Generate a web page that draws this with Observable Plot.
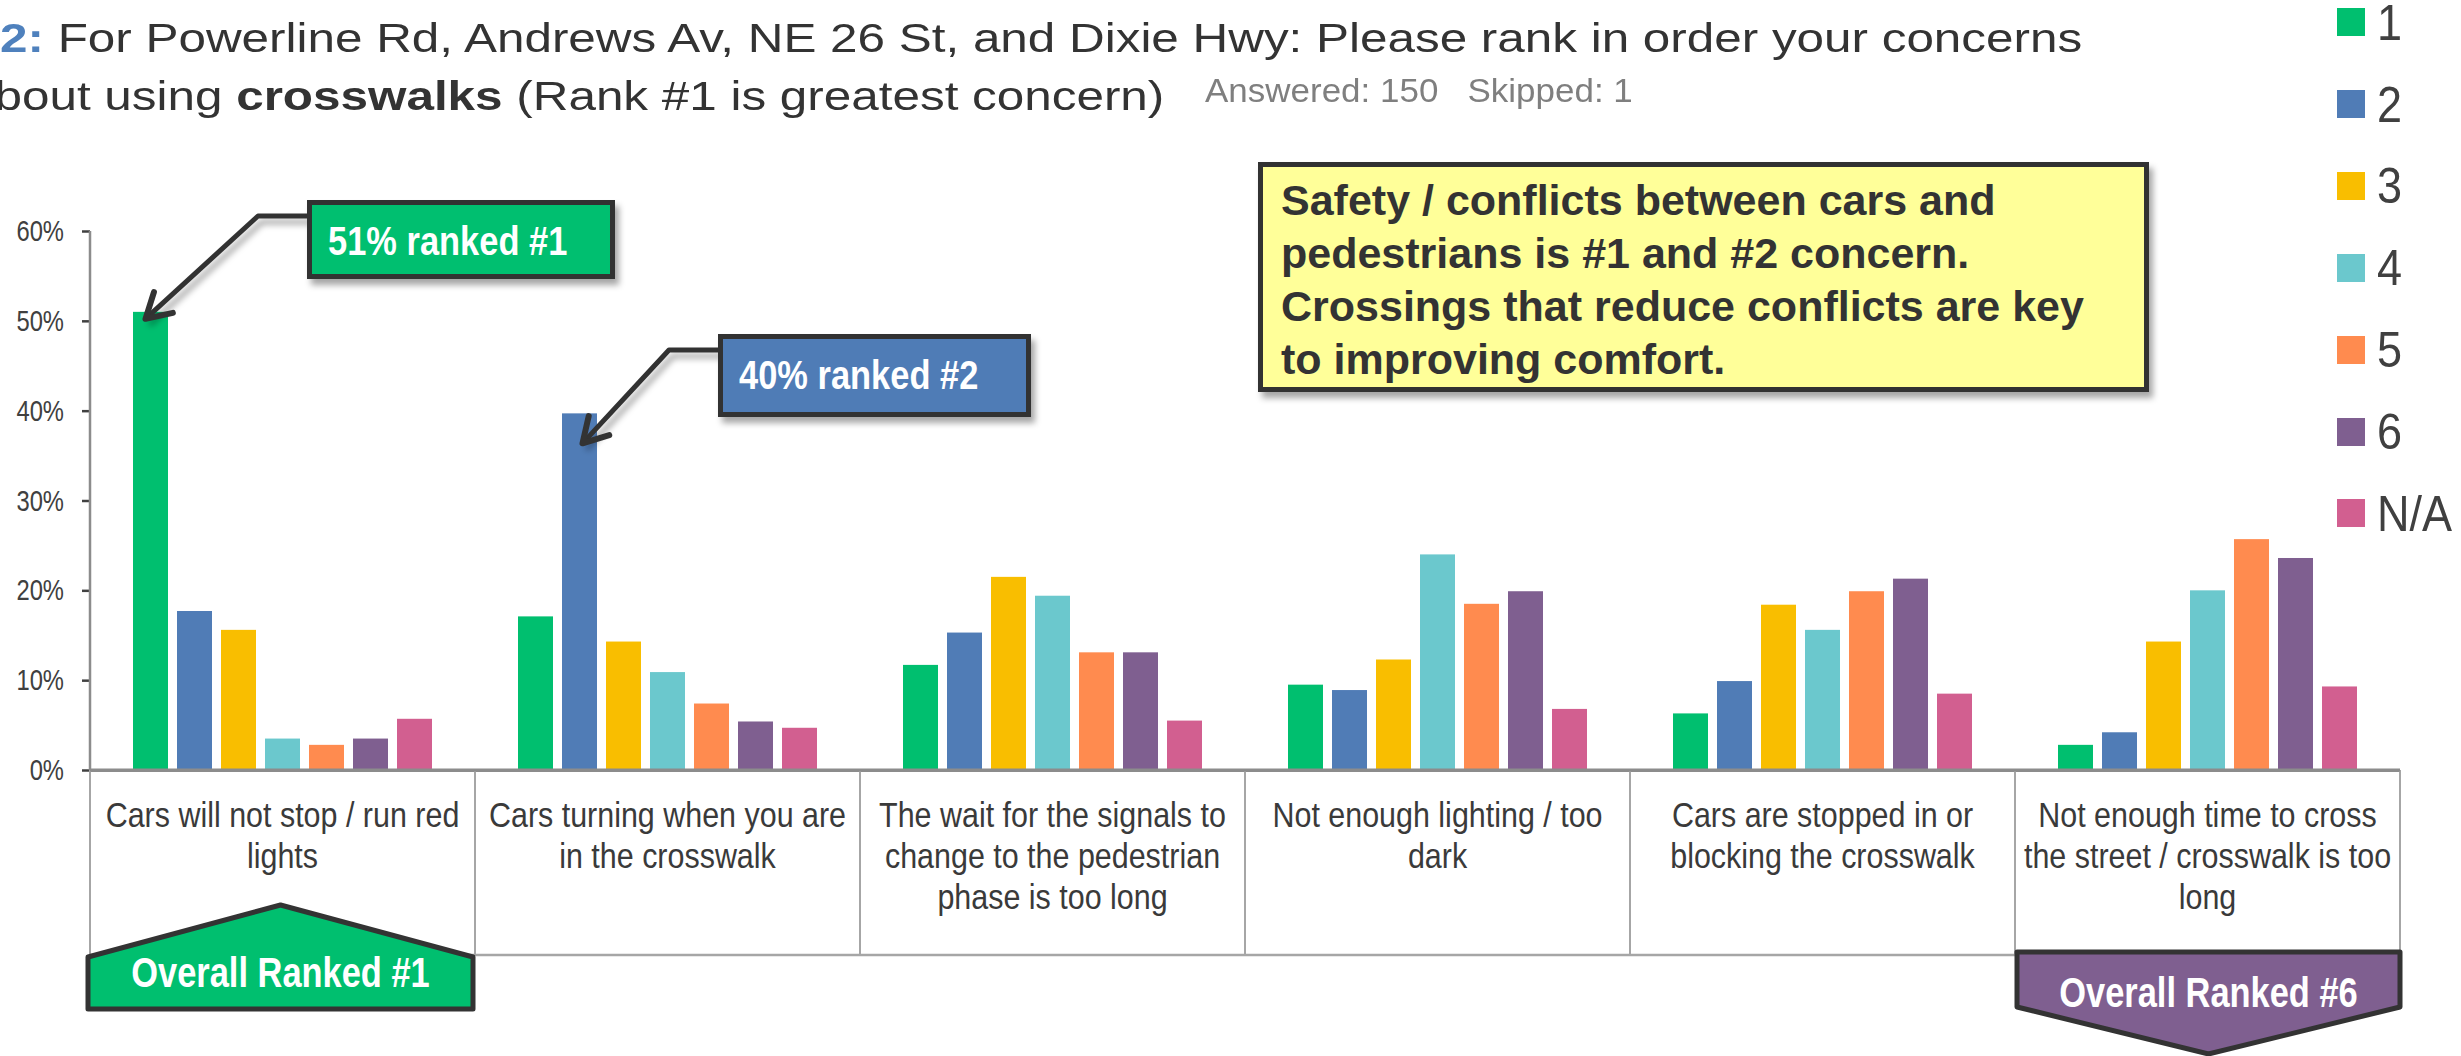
<!DOCTYPE html>
<html><head><meta charset="utf-8">
<script src="https://cdn.jsdelivr.net/npm/d3@7"></script>
<script src="https://cdn.jsdelivr.net/npm/@observablehq/plot@0.6"></script>
<style>
html,body{margin:0;padding:0;background:#fff;}
body{width:2461px;height:1056px;overflow:hidden;position:relative;font-family:"Liberation Sans",Arial,sans-serif;}
.tline{position:absolute;white-space:pre;font-size:40px;line-height:40px;color:#333;transform-origin:0 0;transform:scaleX(1.235);}
#ans{position:absolute;left:1205px;top:74px;font-size:33px;line-height:33px;color:#7f7f7f;white-space:pre;transform-origin:0 0;transform:scaleX(1.06);}
#chart{position:absolute;left:0;top:130px;}
.lsq{position:absolute;width:28px;height:28px;}
.ltx{position:absolute;font-size:50px;line-height:36px;color:#404040;transform-origin:0 0;transform:scaleX(0.9);white-space:pre;}
</style></head><body>
<div class="tline" style="left:0;top:18px"><b style="color:#4F81BD">2:</b> For Powerline Rd, Andrews Av, NE 26 St, and Dixie Hwy: Please rank in order your concerns</div>
<div class="tline" style="left:-33px;top:76px">about using <b>crosswalks</b> (Rank #1 is greatest concern)</div>
<div id="ans">Answered: 150   Skipped: 1</div>
<div id="chart"></div>
<div id="legend"></div>
<script>
// ---- data ----
const categories = [
  "Cars will not stop / run red\nlights",
  "Cars turning when you are\nin the crosswalk",
  "The wait for the signals to\nchange to the pedestrian\nphase is too long",
  "Not enough lighting / too\ndark",
  "Cars are stopped in or\nblocking the crosswalk",
  "Not enough time to cross\nthe street / crosswalk is too\nlong"
];
const ranks = ["1", "2", "3", "4", "5", "6", "N/A"];
const rankColors = ["#00BF6F", "#507CB6", "#F9BE00", "#6BC8CD", "#FF8B4F", "#7F5F90", "#D25F90"];
const rank1 = [51.0, 17.1, 11.7, 9.5, 6.3, 2.8];
const rank2 = [17.7, 39.7, 15.3, 8.9, 9.9, 4.2];
const rank3 = [15.6, 14.3, 21.5, 12.3, 18.4, 14.3];
const rank4 = [3.5, 10.9, 19.4, 24.0, 15.6, 20.0];
const rank5 = [2.8, 7.4, 13.1, 18.5, 19.9, 25.7];
const rank6 = [3.5, 5.4, 13.1, 19.9, 21.3, 23.6];
const rankNA = [5.7, 4.7, 5.5, 6.8, 8.5, 9.3];
const yTicks = [0, 10, 20, 30, 40, 50, 60];
const callout1 = "51% ranked #1";
const callout2 = "40% ranked #2";
const overall1 = "Overall Ranked #1";
const overall6 = "Overall Ranked #6";
const noteLines = [
  "Safety / conflicts between cars and",
  "pedestrians is #1 and #2 concern.",
  "Crossings that reduce conflicts are key",
  "to improving comfort."
];

const series = [rank1, rank2, rank3, rank4, rank5, rank6, rankNA];
const data = ranks.flatMap((r, j) => series[j].map((v, i) => ({category: categories[i], rank: r, value: v})));

const FONT = '"Liberation Sans", Arial, sans-serif';
const W = 2461, H = 926;
const plot = Plot.plot({
  width: W, height: H,
  marginTop: 101, marginBottom: 286, marginLeft: 89, marginRight: 60,
  style: {fontFamily: FONT, fontSize: "29px", color: "#404040", background: "transparent", overflow: "visible"},
  facet: {data: data, x: "category", label: null},
  fx: {domain: categories, padding: 0, axis: null, label: null},
  x: {domain: ranks, paddingInner: 0.2, paddingOuter: 0.9, axis: null, label: null},
  y: {domain: [0, 60], ticks: yTicks, tickFormat: () => "", tickSize: 8, tickPadding: 18, label: null},
  color: {domain: ranks, range: rankColors},
  marks: [
    Plot.barY(data, {x: "rank", y: "value", fill: "rank"}),
    Plot.ruleY([0], {stroke: "#8c8c8c", strokeWidth: 3})
  ]
});
document.getElementById("chart").appendChild(plot);

const svg = d3.select(plot);
const fx = plot.scale("fx"), xs = plot.scale("x"), ys = plot.scale("y");
const bw = fx.bandwidth;
const y0 = ys.apply(0);
const xBase = Math.min(...xs.range);

// style y axis ticks
svg.selectAll('[aria-label="y-axis tick"]').attr("stroke", "#8c8c8c").attr("stroke-width", 2.5);

const defs = svg.append("defs");
const f = defs.append("filter").attr("id", "shadow").attr("x", "-10%").attr("y", "-20%").attr("width", "130%").attr("height", "160%");
f.append("feDropShadow").attr("dx", 4).attr("dy", 6).attr("stdDeviation", 3).attr("flood-color", "#000").attr("flood-opacity", 0.35);

const over = svg.append("g").attr("text-anchor", "start");
const left = fx.apply(categories[0]);
const right = fx.apply(categories[categories.length - 1]) + bw;
// y tick labels (condensed, positioned by the y scale)
yTicks.forEach(t => {
  over.append("text").text(t + "%")
    .attr("transform", `translate(${left - 26},${ys.apply(t) + 10}) scale(0.82,1)`)
    .attr("text-anchor", "end").attr("font-family", FONT).attr("font-size", 29).attr("fill", "#404040");
});
// y axis domain line
over.append("line").attr("x1", left).attr("x2", left).attr("y1", ys.apply(60)).attr("y2", y0)
  .attr("stroke", "#8c8c8c").attr("stroke-width", 2.5);
// category label box
const boxH = 185;
const edges = categories.map(c => fx.apply(c)).concat([right]);
edges.forEach(x => over.append("line").attr("x1", x).attr("x2", x).attr("y1", y0).attr("y2", y0 + boxH)
  .attr("stroke", "#a6a6a6").attr("stroke-width", 2));
over.append("line").attr("x1", left).attr("x2", right).attr("y1", y0 + boxH).attr("y2", y0 + boxH)
  .attr("stroke", "#a6a6a6").attr("stroke-width", 2.5);
over.append("line").attr("x1", left).attr("x2", right).attr("y1", y0).attr("y2", y0)
  .attr("stroke", "#8c8c8c").attr("stroke-width", 3);
// category labels
categories.forEach(c => {
  const cx = fx.apply(c) + bw / 2;
  c.split("\n").forEach((line, k) => {
    over.append("text").text(line)
      .attr("transform", `translate(${cx},${y0 + 57 + k * 41}) scale(0.87,1)`)
      .attr("text-anchor", "middle").attr("font-family", FONT).attr("font-size", 35).attr("fill", "#3a3a3a");
  });
});

// pentagons
function condText(g, str, x, y, size, s, anchor, fill) {
  g.append("text").text(str).attr("transform", `translate(${x},${y}) scale(${s},1)`)
    .attr("text-anchor", anchor).attr("font-family", FONT).attr("font-weight", "bold")
    .attr("font-size", size).attr("fill", fill);
}
{
  const x0 = fx.apply(categories[0]) - 2, x1 = x0 + bw, cx = (x0 + x1) / 2;
  over.append("path").attr("d", d3.line()([[x0, y0 + 239], [x0, y0 + 187], [cx, y0 + 135], [x1, y0 + 187], [x1, y0 + 239]]) + "Z")
    .attr("fill", rankColors[0]).attr("stroke", "#333").attr("stroke-width", 5).attr("stroke-linejoin", "round");
  condText(over, overall1, cx, y0 + 217, 42, 0.82, "middle", "#fff");
}
{
  const x0 = fx.apply(categories[5]) + 2, x1 = fx.apply(categories[5]) + bw, cx = (x0 + x1) / 2;
  over.append("path").attr("d", d3.line()([[x0, y0 + 182], [x1, y0 + 182], [x1, y0 + 237], [cx, y0 + 284], [x0, y0 + 237]]) + "Z")
    .attr("fill", rankColors[5]).attr("stroke", "#333").attr("stroke-width", 5).attr("stroke-linejoin", "round");
  condText(over, overall6, cx, y0 + 237, 42, 0.82, "middle", "#fff");
}

// callouts with arrows
function barTop(ci, ri) {
  return [fx.apply(categories[ci]) + (xs.apply(ranks[ri]) - xBase) + xs.bandwidth / 2, ys.apply(series[ri][ci])];
}
function arrow(pts) {
  over.append("path").attr("d", d3.line()(pts)).attr("fill", "none").attr("stroke", "#333")
    .attr("stroke-width", 5).attr("stroke-linejoin", "round").attr("filter", "url(#shadow)");
  const [xa, ya] = pts[pts.length - 2], [xb, yb] = pts[pts.length - 1];
  const a = Math.atan2(yb - ya, xb - xa), L = 28, w = Math.PI / 6;
  const p1 = [xb - L * Math.cos(a - w), yb - L * Math.sin(a - w)];
  const p2 = [xb - L * Math.cos(a + w), yb - L * Math.sin(a + w)];
  over.append("path").attr("d", d3.line()([p1, [xb, yb], p2])).attr("fill", "none").attr("stroke", "#333")
    .attr("stroke-width", 6).attr("stroke-linejoin", "round").attr("stroke-linecap", "round");
}
function callout(ci, ri, text, bx, by, bwid, bh, tip) {
  const [tx, ty] = barTop(ci, ri);
  arrow([[bx, by + 16], [bx - 49, by + 16], [tx + tip[0], ty + tip[1]]]);
  over.append("rect").attr("x", bx + 2.5).attr("y", by + 2.5).attr("width", bwid - 5).attr("height", bh - 5)
    .attr("fill", rankColors[ri]).attr("stroke", "#333").attr("stroke-width", 5).attr("filter", "url(#shadow)");
  condText(over, text, bx + 21, by + 55, 41, 0.84, "start", "#fff");
}
callout(0, 0, callout1, 307, 70, 308, 79, [-5, 7]);
callout(1, 1, callout2, 718, 204, 313, 83, [3, 30]);

// yellow note
over.append("rect").attr("x", 1260.5).attr("y", 34.5).attr("width", 886).attr("height", 225)
  .attr("fill", "#FFFF99").attr("stroke", "#333").attr("stroke-width", 5).attr("filter", "url(#shadow)");
noteLines.forEach((l, k) => {
  over.append("text").text(l).attr("x", 1281).attr("y", 85 + k * 53).attr("text-anchor", "start")
    .attr("font-family", FONT).attr("font-weight", "bold").attr("font-size", 43).attr("fill", "#333");
});

// legend
const leg = d3.select("#legend");
ranks.forEach((r, i) => {
  const cy = 22 + i * 81.9;
  leg.append("div").attr("class", "lsq").style("left", "2337px").style("top", (cy - 14) + "px").style("background", rankColors[i]);
  leg.append("div").attr("class", "ltx").style("left", "2377px").style("top", (cy - 17.4) + "px").text(r);
});
</script>
</body></html>
